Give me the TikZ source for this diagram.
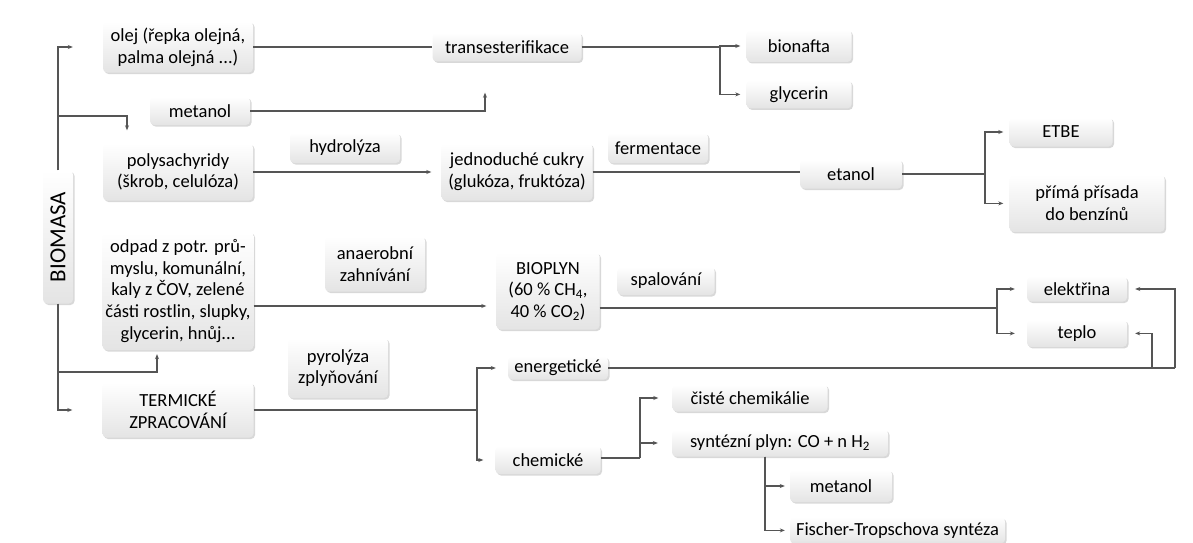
\documentclass[tikz,border=0pt]{standalone}
\usepackage{fontspec}
\setmainfont{Carlito}
\usepackage{tikz}
\usetikzlibrary{arrows.meta, positioning, shadows}
\definecolor{mydark}{RGB}{85,85,85}
\definecolor{myfill}{RGB}{228,228,228}
\tikzset{
  block/.style={rectangle, rounded corners=4pt, top color=white, bottom color=myfill,
    drop shadow={shadow xshift=1.5pt, shadow yshift=-1.5pt, fill=black!30, opacity=0.5},
    align=center, inner sep=1pt, text=black, font=\fontsize{18.5}{21.7}\selectfont},
  arrow/.style={-{Stealth[length=5pt, width=4pt]}, line width=1.1pt, color=mydark, shorten >=6pt},
  line/.style={line width=1.1pt, color=mydark}
}

\begin{document}
\begin{tikzpicture}[x=1pt, y=-1pt]
  \useasboundingbox (0,0) rectangle (1193,543);
  % left column
  \node[block, minimum width=30pt, minimum height=133pt, font=\fontsize{23}{26}\selectfont] (biomasa) at (58,237) {\rotatebox{90}{BIOMASA}};
  \node[block, minimum width=150pt, minimum height=51pt] (olej) at (178,47) {olej (řepka olejná,\\palma olejná ...)};
  \node[block, minimum width=100pt, minimum height=28pt] (metanol) at (200,111) {metanol};
  \node[block, minimum width=150pt, minimum height=57pt] (polysach) at (178,172) {polysachyridy\\(škrob, celulóza)};
  \node[block, minimum width=151pt, minimum height=118pt] (odpad) at (178,291) {odpad z potr. prů-\\myslu, komunální,\\kaly z ČOV, zelené\\části rostlin, slupky,\\glycerin, hnůj...};
  \node[block, minimum width=151pt, minimum height=55pt] (termicke) at (178,410) {TERMICKÉ\\ZPRACOVÁNÍ};

  % processes
  \node[block, minimum width=149pt, minimum height=29pt] (transest) at (507,47) {transesterifikace};
  \node[block, minimum width=110pt, minimum height=30pt] (hydrolyza) at (345,148) {hydrolýza};
  \node[block, minimum width=100pt, minimum height=30pt] (fermentace) at (658,148) {fermentace};
  \node[block, minimum width=100pt, minimum height=55pt] (anaerob) at (375,264) {anaerobní\\zahnívání};
  \node[block, minimum width=97pt, minimum height=28pt] (spalovani) at (666,281) {spalování};
  \node[block, minimum width=100pt, minimum height=60pt] (pyrolyza) at (338,368) {pyrolýza\\zplyňování};

  % products
  \node[block, minimum width=105pt, minimum height=32pt] (bionafta) at (799,46) {bionafta};
  \node[block, minimum width=105pt, minimum height=28pt, below=18pt of bionafta] (glycerin) {glycerin};
  \node[block, minimum width=151pt, minimum height=57pt] (cukry) at (517,172) {jednoduché cukry\\(glukóza, fruktóza)};
  \node[block, minimum width=102pt, minimum height=29pt] (etanol) at (851,174) {etanol};
  \node[block, minimum width=103pt, minimum height=29pt] (etbe) at (1061,132) {ETBE};
  \node[block, minimum width=155pt, minimum height=57pt, below=28pt of etbe.south west, anchor=north west] (prisada) {přímá přísada\\do benzínů};
  \node[block, minimum width=103pt, minimum height=77pt] (bioplyn) at (548,291) {BIOPLYN\\(60 \% CH\textsubscript{4},\\40 \% CO\textsubscript{2})};
  \node[block, minimum width=100pt, minimum height=25pt] (elektrina) at (1077,289) {elektřina};
  \node[block, minimum width=100pt, minimum height=27pt, below=18pt of elektrina] (teplo) {teplo};
  \node[block, minimum width=100pt, minimum height=23pt] (energeticke) at (558,368) {energetické};
  \node[block, minimum width=105pt, minimum height=28pt] (chemicke) at (548,460) {chemické};
  \node[block, minimum width=155pt, minimum height=27pt] (ciste) at (750,398) {čisté chemikálie};
  \node[block, minimum width=216pt, minimum height=27pt] (syngas) at (780,443) {syntézní plyn: CO + n H\textsubscript{2}};
  \node[block, minimum width=102pt, minimum height=32pt] (metanolb) at (841,486) {metanol};
  \node[block, minimum width=215pt, minimum height=26pt, below=15pt of metanolb.south west, anchor=north west] (fischer) {Fischer-Tropschova syntéza};

  % junctions
  \coordinate (j1) at (58,116);
  \coordinate (j2) at (58,372);
  \coordinate (f1) at (720,47);
  \coordinate (f2) at (985,174);
  \coordinate (f3) at (997,308);
  \coordinate (f4) at (477,410);
  \coordinate (f5) at (640,458);
  \coordinate (f6) at (1175,368);
  \coordinate (f7) at (1152,368);

  % biomasa tree
  \draw[arrow, shorten >=30pt] (biomasa.north) |- (olej.west);
  \draw[arrow, shorten >=30pt] (biomasa.south) |- (termicke.west);
  \draw[arrow, shorten >=0pt] (j1) -| ([xshift=-51pt, yshift=13pt]polysach.north);
  \draw[arrow, shorten >=0pt] (j2) -| ([xshift=-21pt, yshift=-4pt]odpad.south);

  % oil branch
  \draw[line] (olej.east) -- (transest.west);
  \draw[line] (transest.east) -- (f1);
  \draw[arrow] (f1) |- (bionafta.west);
  \draw[arrow] (f1) |- (glycerin.west);
  \draw[arrow, shorten >=0pt] (metanol.east) -| ([xshift=-22pt, yshift=-31pt]transest.south);

  % sugar branch
  \draw[arrow, shorten >=10pt] (polysach.east) -- (cukry.west);
  \draw[line] (cukry.east) -- (etanol.west |- cukry.east);
  \draw[line] (etanol.east) -- (f2);
  \draw[arrow] (f2) |- (etbe.west);
  \draw[arrow] (f2) |- (prisada.west);

  % biogas branch
  \draw[arrow, shorten >=10pt] ([yshift=-15pt]odpad.east) -- ([yshift=-15pt]bioplyn.west);
  \draw[line] ([yshift=-17pt]bioplyn.east) -- (f3);
  \draw[arrow, shorten >=12pt] (f3) |- (elektrina.west);
  \draw[arrow, shorten >=12pt] (f3) |- (teplo.west);

  % thermal branch
  \draw[line] (termicke.east) -- (f4);
  \draw[arrow, shorten >=12pt] (f4) |- (energeticke.west);
  \draw[arrow, shorten >=12pt] (f4) |- (chemicke.west);
  \draw[line] (energeticke.east) -- (f6);
  \draw[arrow, shorten >=8pt] (f6) |- (elektrina.east);
  \draw[arrow, shorten >=8pt] (f7) |- (teplo.east);
  \draw[line] ([yshift=2pt]chemicke.east) -- (f5);
  \draw[arrow, shorten >=14pt] (f5) |- (ciste.west);
  \draw[arrow, shorten >=14pt] (f5) |- (syngas.west);
  \draw[arrow, shorten >=5pt] ([xshift=-15pt]syngas.south) |- (metanolb.west);
  \draw[arrow, shorten >=5pt] ([xshift=-15pt]syngas.south) |- (fischer.west);
\end{tikzpicture}
\end{document}
